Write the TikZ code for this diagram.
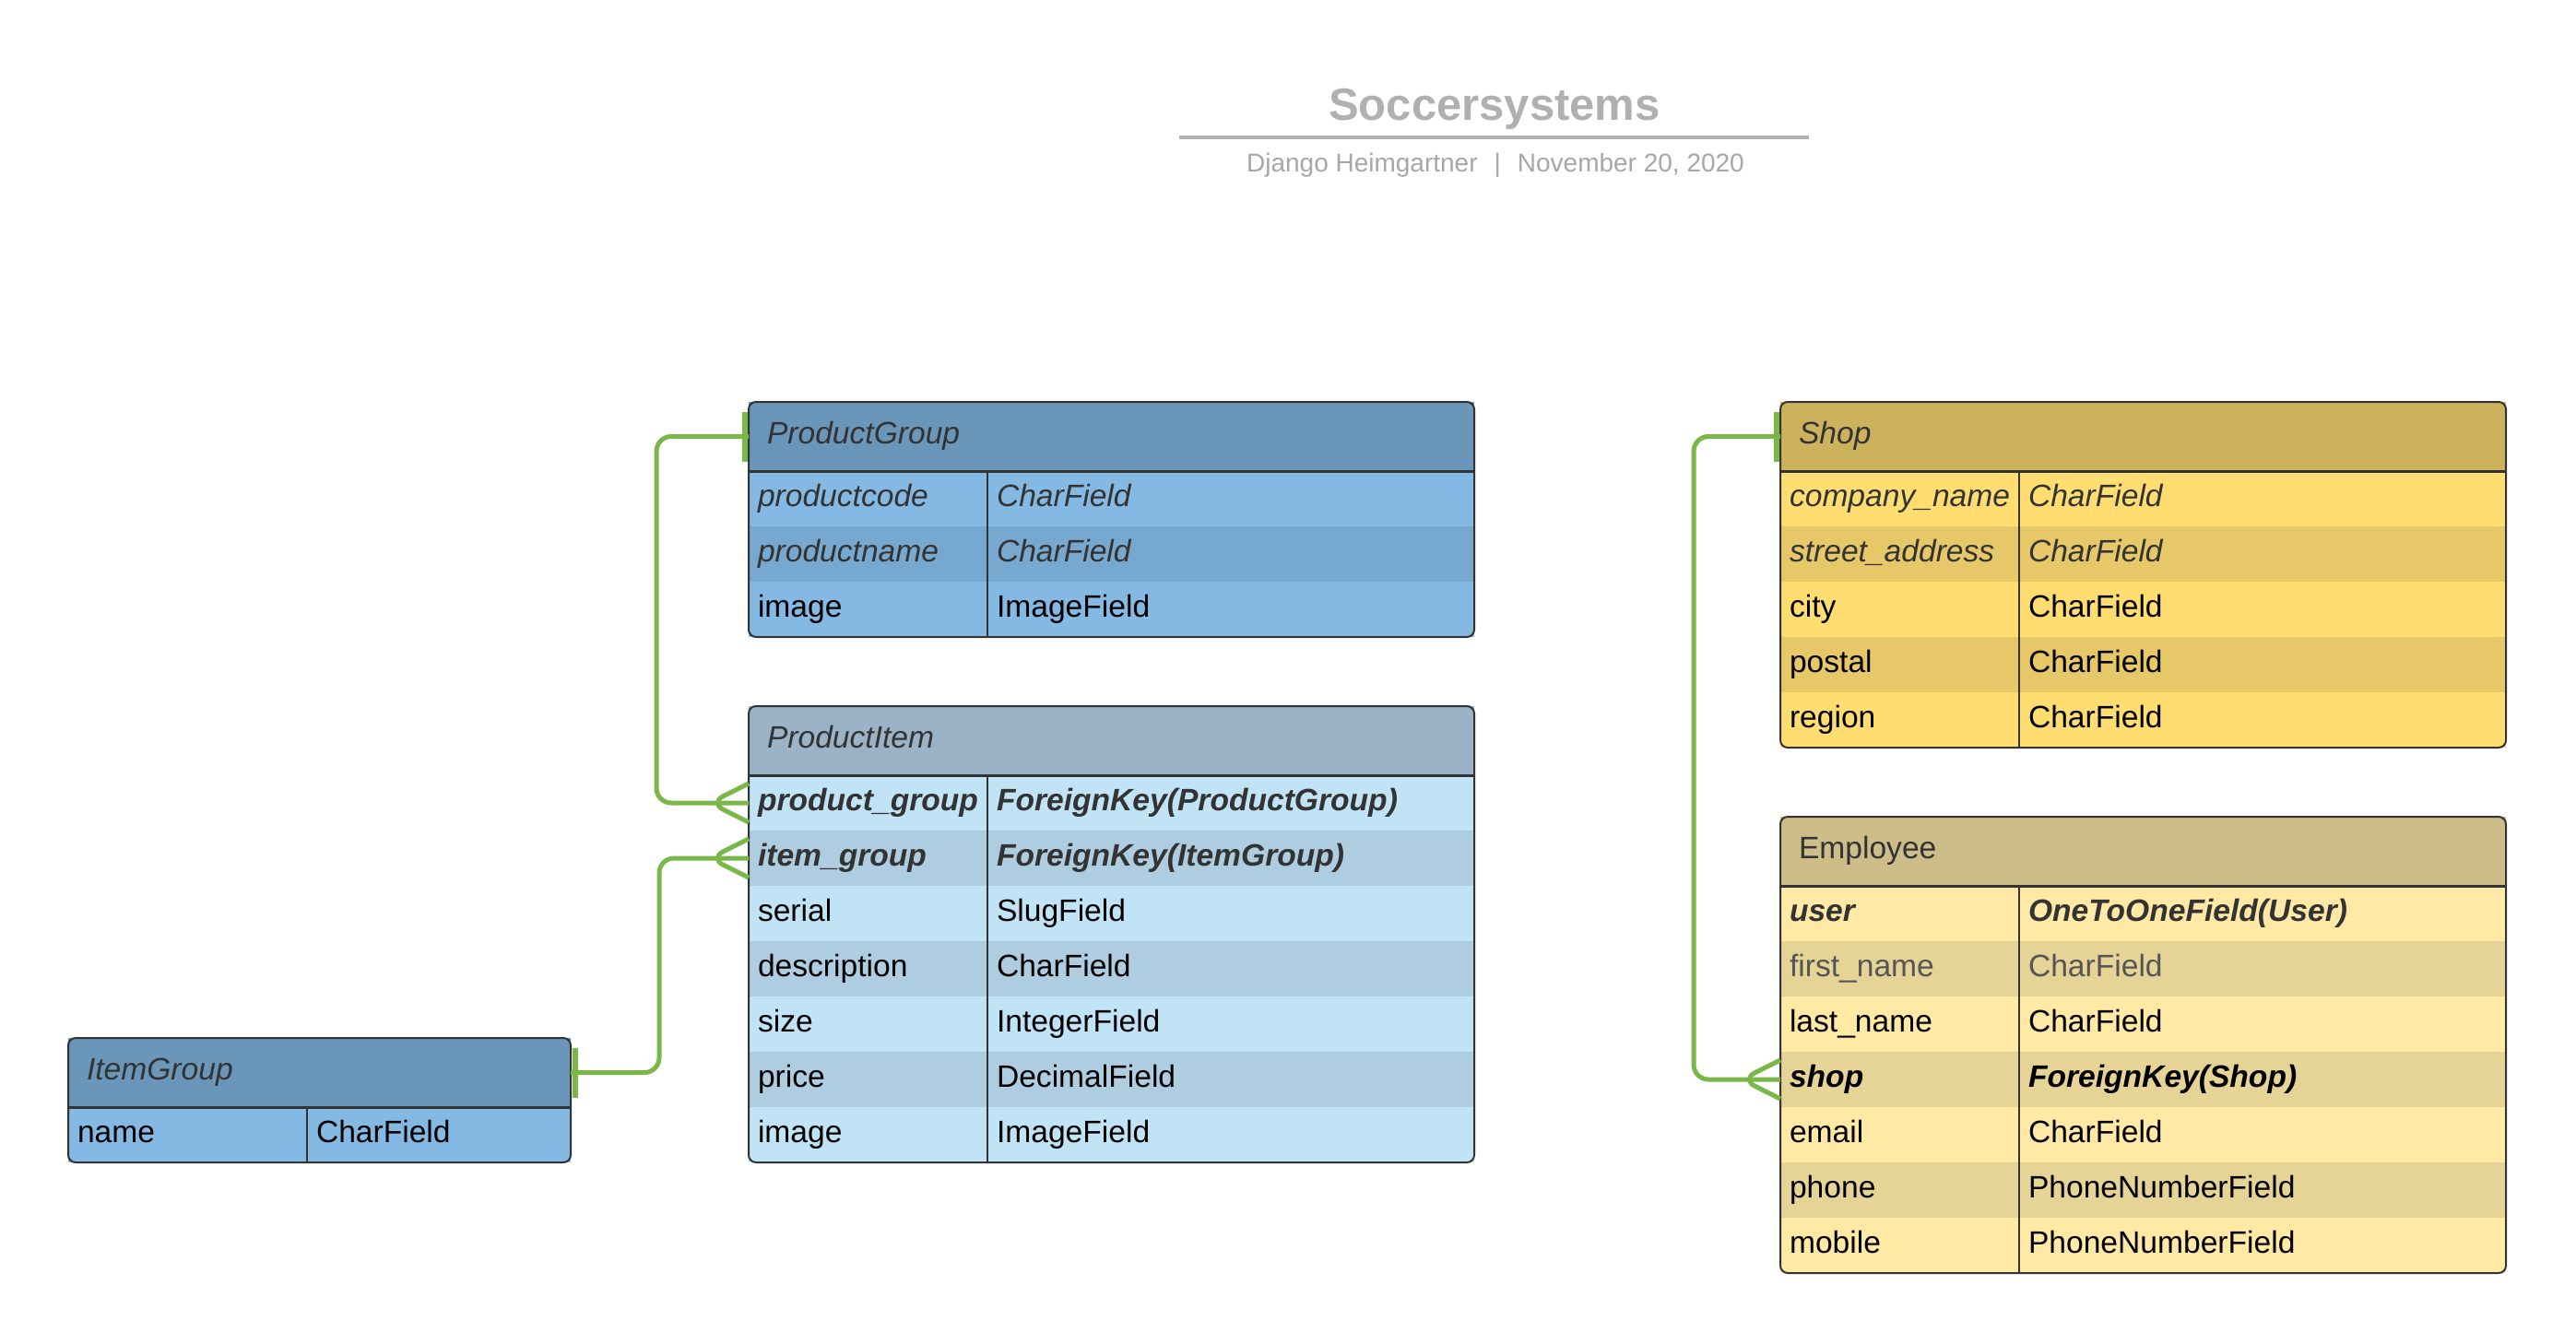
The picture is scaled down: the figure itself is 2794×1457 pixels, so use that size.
\documentclass[tikz,border=0pt]{standalone}
\usepackage{fontspec}
\setmainfont{Liberation Sans}
\usepackage{tikz}
\usetikzlibrary{calc,positioning}
\definecolor{pgHead}{HTML}{6A96B9}
\definecolor{pgA}{HTML}{84B9E3}
\definecolor{pgB}{HTML}{77A8CF}
\definecolor{piHead}{HTML}{9BB3C7}
\definecolor{piA}{HTML}{C1E3F6}
\definecolor{piB}{HTML}{AFCDE0}
\definecolor{shHead}{HTML}{CCB25D}
\definecolor{shA}{HTML}{FFDD71}
\definecolor{shB}{HTML}{E6C868}
\definecolor{emHead}{HTML}{CCBD89}
\definecolor{emA}{HTML}{FFE9A4}
\definecolor{emB}{HTML}{E6D396}
\definecolor{softtext}{HTML}{333333}
\definecolor{greytext}{HTML}{555555}
\definecolor{boxline}{HTML}{333333}
\definecolor{linkgreen}{HTML}{7AB648}
\definecolor{titlegrey}{HTML}{B0B0B0}

\begin{document}
\begin{tikzpicture}[x=0.5pt, y=-0.5pt,
    hdr/.style={rectangle, anchor=north west, outer sep=0pt, inner xsep=10pt, inner ysep=0pt,
      minimum height=37.5pt, text height=12pt, text depth=4pt, align=left, text=softtext,
      font=\fontsize{16.8}{20}\selectfont},
    namecell/.style={rectangle, outer sep=0pt, inner xsep=5pt, inner ysep=0pt, minimum height=30pt,
      text height=12pt, text depth=4pt, text width=119.5pt, align=left,
      font=\fontsize{16.8}{20}\selectfont},
    typecell/.style={namecell, text width=254pt},
    soft/.style={text=softtext},
    box/.style={draw=boxline, line width=1pt, rounded corners=4pt},
    sep/.style={draw=boxline, line width=1.5pt},
    divider/.style={draw=boxline, line width=0.9pt},
    link/.style={draw=linkgreen, line width=2.5pt, rounded corners=8pt, line join=round},
    tick/.style={draw=linkgreen, line width=3pt}]
  \fill[white] (0,0) rectangle (2794,1457);
  \useasboundingbox (0,0) rectangle (2794,1457);

  % title
  \node[anchor=base, text=titlegrey, font=\fontsize{24.5}{28}\selectfont\bfseries] (title) at (1621,130) {Soccersystems};
  \draw[titlegrey, line width=2pt] (1279,149) -- (1962,149);
  \node[anchor=base, text=titlegrey!95!black, font=\fontsize{14}{17}\selectfont] (byline) at (1622,186)
    {Django Heimgartner\hspace{9pt}|\hspace{9pt}November 20, 2020};

  % ProductGroup
  \node[hdr, fill=pgHead, text width=373.5pt] (pg) at (812,436) {\itshape ProductGroup};
  \node[namecell, soft, fill=pgA, anchor=north west] (pgn1) at (pg.south west) {\itshape productcode};
  \node[typecell, soft, fill=pgA, right=0pt of pgn1] (pgt1) {\itshape CharField};
  \node[namecell, soft, fill=pgB, below=0pt of pgn1] (pgn2) {\itshape productname};
  \node[typecell, soft, fill=pgB, right=0pt of pgn2] (pgt2) {\itshape CharField};
  \node[namecell, fill=pgA, below=0pt of pgn2] (pgn3) {image};
  \node[typecell, fill=pgA, right=0pt of pgn3] (pgt3) {ImageField};
  \draw[divider] (pgn1.north east) -- (pgn3.south east);
  \draw[sep] (pg.south west) -- (pg.south east);
  \draw[box] (pg.north west) rectangle (pgt3.south east);

  % ProductItem
  \node[hdr, fill=piHead, text width=373.5pt] (pi) at (812,766) {\itshape ProductItem};
  \node[namecell, soft, fill=piA, anchor=north west] (pin1) at (pi.south west) {\bfseries\itshape product\_group};
  \node[typecell, soft, fill=piA, right=0pt of pin1] (pit1) {\bfseries\itshape ForeignKey(ProductGroup)};
  \node[namecell, soft, fill=piB, below=0pt of pin1] (pin2) {\bfseries\itshape item\_group};
  \node[typecell, soft, fill=piB, right=0pt of pin2] (pit2) {\bfseries\itshape ForeignKey(ItemGroup)};
  \node[namecell, fill=piA, below=0pt of pin2] (pin3) {serial};
  \node[typecell, fill=piA, right=0pt of pin3] (pit3) {SlugField};
  \node[namecell, fill=piB, below=0pt of pin3] (pin4) {description};
  \node[typecell, fill=piB, right=0pt of pin4] (pit4) {CharField};
  \node[namecell, fill=piA, below=0pt of pin4] (pin5) {size};
  \node[typecell, fill=piA, right=0pt of pin5] (pit5) {IntegerField};
  \node[namecell, fill=piB, below=0pt of pin5] (pin6) {price};
  \node[typecell, fill=piB, right=0pt of pin6] (pit6) {DecimalField};
  \node[namecell, fill=piA, below=0pt of pin6] (pin7) {image};
  \node[typecell, fill=piA, right=0pt of pin7] (pit7) {ImageField};
  \draw[divider] (pin1.north east) -- (pin7.south east);
  \draw[sep] (pi.south west) -- (pi.south east);
  \draw[box] (pi.north west) rectangle (pit7.south east);

  % ItemGroup
  \node[hdr, fill=pgHead, text width=252.5pt] (ig) at (74,1126) {\itshape ItemGroup};
  \node[namecell, fill=pgA, anchor=north west] (ign1) at (ig.south west) {name};
  \node[typecell, fill=pgA, text width=133pt, right=0pt of ign1] (igt1) {CharField};
  \draw[divider] (ign1.north east) -- (ign1.south east);
  \draw[sep] (ig.south west) -- (ig.south east);
  \draw[box] (ig.north west) rectangle (igt1.south east);

  % Shop
  \node[hdr, fill=shHead, text width=373.5pt] (sh) at (1931,436) {\itshape Shop};
  \node[namecell, soft, fill=shA, anchor=north west] (shn1) at (sh.south west) {\itshape company\_name};
  \node[typecell, soft, fill=shA, right=0pt of shn1] (sht1) {\itshape CharField};
  \node[namecell, soft, fill=shB, below=0pt of shn1] (shn2) {\itshape street\_address};
  \node[typecell, soft, fill=shB, right=0pt of shn2] (sht2) {\itshape CharField};
  \node[namecell, fill=shA, below=0pt of shn2] (shn3) {city};
  \node[typecell, fill=shA, right=0pt of shn3] (sht3) {CharField};
  \node[namecell, fill=shB, below=0pt of shn3] (shn4) {postal};
  \node[typecell, fill=shB, right=0pt of shn4] (sht4) {CharField};
  \node[namecell, fill=shA, below=0pt of shn4] (shn5) {region};
  \node[typecell, fill=shA, right=0pt of shn5] (sht5) {CharField};
  \draw[divider] (shn1.north east) -- (shn5.south east);
  \draw[sep] (sh.south west) -- (sh.south east);
  \draw[box] (sh.north west) rectangle (sht5.south east);

  % Employee
  \node[hdr, fill=emHead, text width=373.5pt] (em) at (1931,886) {Employee};
  \node[namecell, soft, fill=emA, anchor=north west] (emn1) at (em.south west) {\bfseries\itshape user};
  \node[typecell, soft, fill=emA, right=0pt of emn1] (emt1) {\bfseries\itshape OneToOneField(User)};
  \node[namecell, text=greytext, fill=emB, below=0pt of emn1] (emn2) {first\_name};
  \node[typecell, text=greytext, fill=emB, right=0pt of emn2] (emt2) {CharField};
  \node[namecell, fill=emA, below=0pt of emn2] (emn3) {last\_name};
  \node[typecell, fill=emA, right=0pt of emn3] (emt3) {CharField};
  \node[namecell, fill=emB, below=0pt of emn3] (emn4) {\bfseries\itshape shop};
  \node[typecell, fill=emB, right=0pt of emn4] (emt4) {\bfseries\itshape ForeignKey(Shop)};
  \node[namecell, fill=emA, below=0pt of emn4] (emn5) {email};
  \node[typecell, fill=emA, right=0pt of emn5] (emt5) {CharField};
  \node[namecell, fill=emB, below=0pt of emn5] (emn6) {phone};
  \node[typecell, fill=emB, right=0pt of emn6] (emt6) {PhoneNumberField};
  \node[namecell, fill=emA, below=0pt of emn6] (emn7) {mobile};
  \node[typecell, fill=emA, right=0pt of emn7] (emt7) {PhoneNumberField};
  \draw[divider] (emn1.north east) -- (emn7.south east);
  \draw[sep] (em.south west) -- (em.south east);
  \draw[box] (em.north west) rectangle (emt7.south east);

  % links
  \draw[link] (pg.west) -- ++(-100,0) |- (pin1.west);
  \draw[tick] ($(pg.west)+(-4,-27)$) -- ($(pg.west)+(-4,27)$);
  \draw[link] ($(pin1.west)+(0,-21)$) -- ($(pin1.west)+(-42,0)$) -- ($(pin1.west)+(0,21)$);

  \draw[link] (ig.east) -- ++(96,0) |- (pin2.west);
  \draw[tick] ($(ig.east)+(5,-27)$) -- ($(ig.east)+(5,27)$);
  \draw[link] ($(pin2.west)+(0,-21)$) -- ($(pin2.west)+(-42,0)$) -- ($(pin2.west)+(0,21)$);

  \draw[link] (sh.west) -- ++(-94,0) |- (emn4.west);
  \draw[tick] ($(sh.west)+(-4,-27)$) -- ($(sh.west)+(-4,27)$);
  \draw[link] ($(emn4.west)+(0,-21)$) -- ($(emn4.west)+(-42,0)$) -- ($(emn4.west)+(0,21)$);
\end{tikzpicture}
\end{document}
